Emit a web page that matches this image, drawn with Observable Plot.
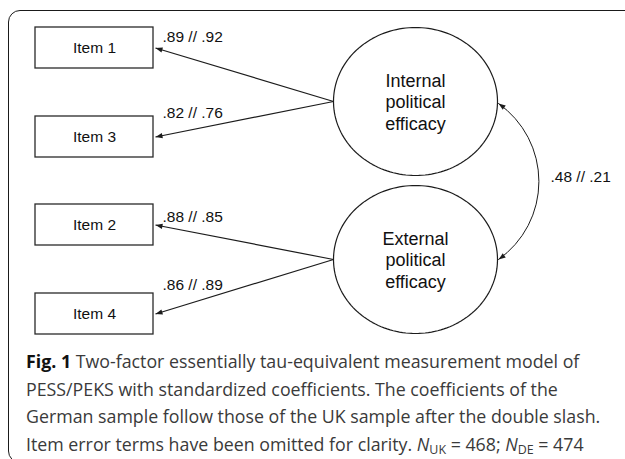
<!DOCTYPE html>
<html><head><meta charset="utf-8">
<script src="https://cdn.jsdelivr.net/npm/d3@7"></script>
<script src="https://cdn.jsdelivr.net/npm/@observablehq/plot@0.6"></script>
<style>
html,body{margin:0;padding:0;background:#fff;width:625px;height:459px;overflow:hidden;}
#frame{position:absolute;left:8px;top:10px;width:700px;height:453px;border:1.6px solid #1a1a1a;border-radius:12px;box-sizing:border-box;}
#chart{position:absolute;left:0;top:0;}
#caption{position:absolute;left:26px;top:348px;font-family:"Open Sans";font-size:17.8px;line-height:27.5px;color:#3a3a3a;white-space:nowrap;}
#caption b{color:#111;}
#caption sub{font-size:0.7em;vertical-align:-0.25em;line-height:0;}
</style></head><body>
<div id="frame"></div>
<div id="chart"></div>
<div id="caption"></div>
<script>
// ---------- data ----------
const items = ["Item 1", "Item 3", "Item 2", "Item 4"];
const itemFactor = ["Internal political efficacy", "Internal political efficacy", "External political efficacy", "External political efficacy"];
const factors = ["Internal political efficacy", "External political efficacy"];
const loadingUK = [0.89, 0.82, 0.88, 0.86];
const loadingDE = [0.92, 0.76, 0.85, 0.89];
const correlationUK = [0.48];
const correlationDE = [0.21];
const samples = ["UK", "DE"];
const sampleSizes = [468, 474];

// ---------- layout (pixel positions of the diagram) ----------
const W = 625, H = 340;
const boxX = [35, 153];
const boxTop = [27, 116, 204, 293];
const boxH = 41;
const labelX = 162;
const labelY = [37, 113, 217, 285];
const factorCenter = [[415, 101], [415, 259]];
const RX = 82, RY = 74;
const corrLabel = [550, 177];

const fmt = v => d3.format(".2f")(v).replace(/^0/, "");
const deg = 180 / Math.PI;

const rows = items.map((name, i) => {
  const [cx, cy] = factorCenter[factors.indexOf(itemFactor[i])];
  const x0 = cx - RX, y0 = cy;
  const x1 = boxX[1] + 2, y1 = boxTop[i] + boxH / 2;
  return {
    name, i, x0, y0, x1, y1,
    cy: boxTop[i] + boxH / 2,
    top: boxTop[i], bottom: boxTop[i] + boxH,
    rot: Math.atan2(x1 - x0, -(y1 - y0)) * deg,
    label: `${fmt(loadingUK[i])} // ${fmt(loadingDE[i])}`,
    ly: labelY[i]
  };
});

// ellipse outlines
const ellipsePts = [];
factors.forEach((f, k) => {
  const [cx, cy] = factorCenter[k];
  for (let j = 0; j <= 160; j++) {
    const t = j / 160 * 2 * Math.PI;
    ellipsePts.push({f, x: cx + RX * Math.cos(t), y: cy + RY * Math.sin(t)});
  }
});
const factorNodes = factors.map((f, k) => ({f, x: factorCenter[k][0], y: factorCenter[k][1], text: f.replace(/ /g, "\n")}));

// correlation arc (double-headed)
const bend = 55;
const a = {x: factorCenter[0][0] + RX + 1, y: factorCenter[0][1] + 2};
const b = {x: factorCenter[1][0] + RX + 1, y: factorCenter[1][1]};
const lineAngle = Math.atan2(b.y - a.y, b.x - a.x);
const outAngle = lineAngle - bend / deg;   // leaving a
const inAngle = lineAngle + bend / deg;    // arriving at b
const heads = [
  ...rows.map(r => ({x: r.x1, y: r.y1, rot: r.rot})),
  {x: a.x, y: a.y, rot: Math.atan2(-Math.cos(outAngle), Math.sin(outAngle)) * deg},
  {x: b.x, y: b.y, rot: Math.atan2(Math.cos(inAngle), -Math.sin(inAngle)) * deg}
];

const font = "Liberation Sans, Arial, sans-serif";
const ink = "#1c1c1c";

const chart = Plot.plot({
  width: W, height: H,
  margin: 0,
  x: {domain: [0, W], range: [0, W], axis: null},
  y: {domain: [0, H], range: [0, H], axis: null},
  style: {background: "transparent", overflow: "visible"},
  marks: [
    Plot.link(rows, {x1: "x0", y1: "y0", x2: "x1", y2: "y1", stroke: ink, strokeWidth: 1.2}),
    Plot.arrow([0], {x1: () => a.x, y1: () => a.y, x2: () => b.x, y2: () => b.y, bend, headLength: 0, stroke: ink, strokeWidth: 1}),
    Plot.vector(heads, {x: "x", y: "y", rotate: "rot", length: 7, r: 2.6, shape: "spike", anchor: "end", fill: ink, stroke: "none"}),
    Plot.rect(rows, {x1: () => boxX[0], x2: () => boxX[1], y1: "top", y2: "bottom", fill: "white", stroke: "#2a2a2a", strokeWidth: 1.3}),
    Plot.text(rows, {x: () => (boxX[0] + boxX[1]) / 2, y: "cy", text: "name", fontFamily: font, fontSize: 15.5, fill: "#111"}),
    Plot.text(rows, {x: () => labelX, y: "ly", text: "label", textAnchor: "start", fontFamily: font, fontSize: 15.5, fill: "#111"}),
    Plot.line(ellipsePts, {x: "x", y: "y", z: "f", stroke: ink, strokeWidth: 1.2, fill: "white"}),
    Plot.text(factorNodes, {x: "x", y: "y", text: "text", lineHeight: 1.2, fontFamily: font, fontSize: 18, fill: "#111"}),
    Plot.text([0], {x: () => corrLabel[0], y: () => corrLabel[1], text: () => `${fmt(correlationUK[0])} // ${fmt(correlationDE[0])}`, textAnchor: "start", fontFamily: font, fontSize: 15.5, fill: "#111"})
  ]
});
document.getElementById("chart").appendChild(chart);

const cap = document.getElementById("caption");
cap.innerHTML = `<b>Fig. 1</b> Two-factor essentially tau-equivalent measurement model of<br>` +
  `PESS/PEKS with standardized coefficients. The coefficients of the<br>` +
  `German sample follow those of the UK sample after the double slash.<br>` +
  `Item error terms have been omitted for clarity. ` +
  samples.map((s, i) => `<i>N</i><sub>${s}</sub> = ${sampleSizes[i]}`).join("; ");
</script>
</body></html>
